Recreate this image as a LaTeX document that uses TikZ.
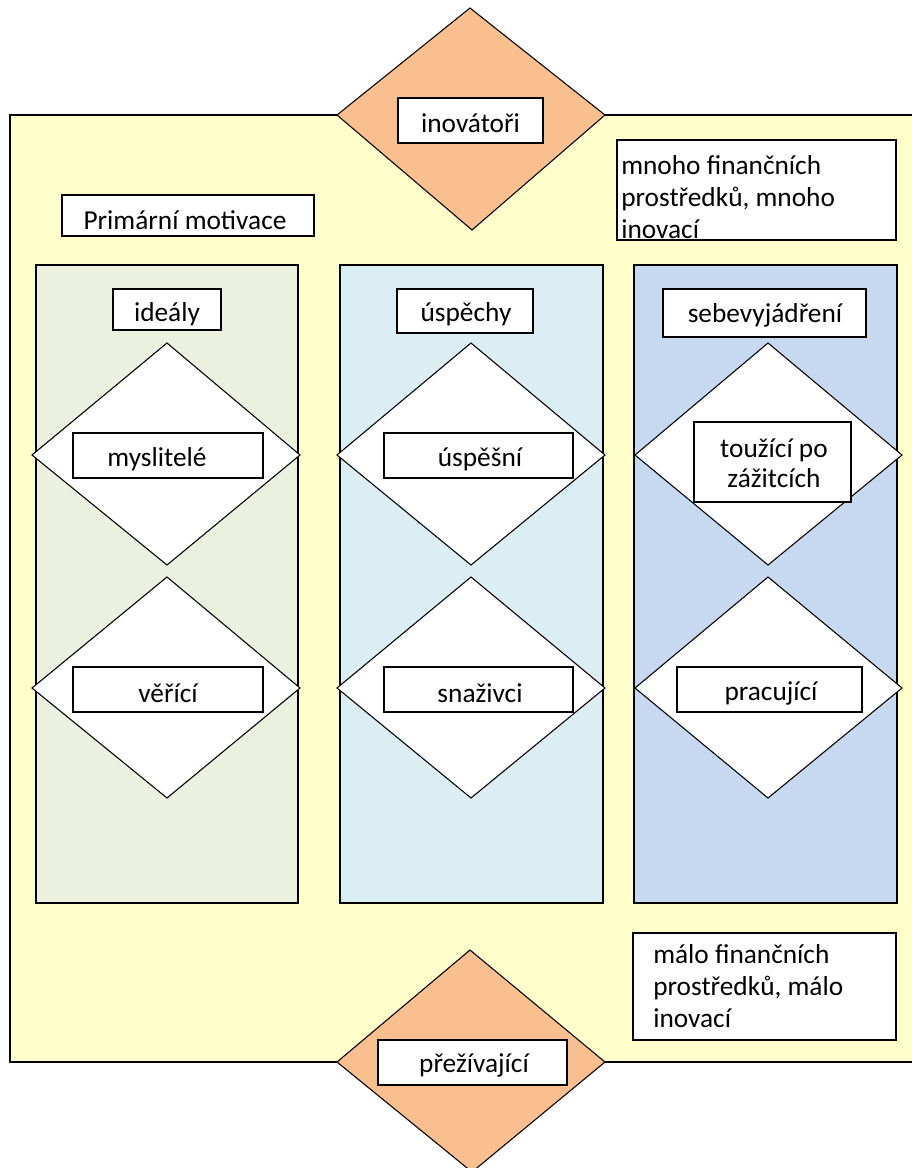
\documentclass[tikz,border=0pt]{standalone}
\usepackage{fontspec}
\setmainfont{Carlito}
\definecolor{cYellow}{RGB}{255,255,204}
\definecolor{cOrange}{RGB}{249,191,143}
\definecolor{cGreen}{RGB}{235,241,222}
\definecolor{cCyan}{RGB}{218,238,243}
\definecolor{cBlue}{RGB}{198,217,241}

\begin{document}
\begin{tikzpicture}[x=0.75pt,y=0.75pt,yscale=-1,xscale=1]
\tikzset{txt/.style={font=\fontsize{20.5}{24}\selectfont, inner sep=0pt}}
\useasboundingbox (0,0) rectangle (912,1168);

%Shape: Rectangle [id:outer]
\draw [fill=cYellow, line width=1.3pt]  (10,115) -- (914,115) -- (914,1062) -- (10,1062) -- cycle ;
%Flowchart: Decision [id:top]
\draw [fill=cOrange, line width=0.8pt]  (470,8) -- (605,115) -- (472,230) -- (337,115) -- cycle ;
%Flowchart: Decision [id:bottom]
\draw [fill=cOrange, line width=0.8pt]  (470,950) -- (605,1062) -- (472,1172) -- (337,1062) -- cycle ;

%Shape: Rectangle [id:col1]
\draw [fill=cGreen, line width=1pt]  (36,265) -- (298,265) -- (298,903) -- (36,903) -- cycle ;
%Shape: Rectangle [id:col2]
\draw [fill=cCyan, line width=1pt]  (340,265) -- (603,265) -- (603,903) -- (340,903) -- cycle ;
%Shape: Rectangle [id:col3]
\draw [fill=cBlue, line width=1pt]  (634,265) -- (897,265) -- (897,903) -- (634,903) -- cycle ;

%Flowchart: Decision [id:d11]
\draw [fill=white, line width=0.8pt]  (167,343) -- (300,455) -- (167,565) -- (32,455) -- cycle ;
%Flowchart: Decision [id:d12]
\draw [fill=white, line width=0.8pt]  (167,577) -- (300,688) -- (167,798) -- (32,688) -- cycle ;
%Flowchart: Decision [id:d21]
\draw [fill=white, line width=0.8pt]  (471,343) -- (605,455) -- (471,565) -- (337,455) -- cycle ;
%Flowchart: Decision [id:d22]
\draw [fill=white, line width=0.8pt]  (471,577) -- (605,688) -- (471,798) -- (337,688) -- cycle ;
%Flowchart: Decision [id:d31]
\draw [fill=white, line width=0.8pt]  (768,343) -- (902,455) -- (768,565) -- (635,455) -- cycle ;
%Flowchart: Decision [id:d32]
\draw [fill=white, line width=0.8pt]  (768,577) -- (902,688) -- (768,798) -- (635,688) -- cycle ;

%Flowchart: Process [id:boxes]
\draw [fill=white, line width=1pt]  (398,98) rectangle (543,143) ;
\draw [fill=white, line width=1pt]  (617,140) rectangle (896,240) ;
\draw [fill=white, line width=1pt]  (62,195) rectangle (314,236) ;
\draw [fill=white, line width=1pt]  (113,289) rectangle (221,330) ;
\draw [fill=white, line width=1pt]  (397,289) rectangle (533,333) ;
\draw [fill=white, line width=1pt]  (663,289) rectangle (866,337) ;
\draw [fill=white, line width=1pt]  (73,433) rectangle (263,478) ;
\draw [fill=white, line width=1pt]  (384,433) rectangle (573,478) ;
\draw [fill=white, line width=1pt]  (694,422) rectangle (851,502) ;
\draw [fill=white, line width=1pt]  (73,667) rectangle (263,712) ;
\draw [fill=white, line width=1pt]  (384,667) rectangle (573,712) ;
\draw [fill=white, line width=1pt]  (677,667) rectangle (862,712) ;
\draw [fill=white, line width=1pt]  (633,933) rectangle (896,1040) ;
\draw [fill=white, line width=1pt]  (378,1040) rectangle (567,1085) ;

% Text Node
\node [txt] (inovatori) at (470.5,123) {inovátoři};
% Text Node
\begin{scope}
\clip (617,140) rectangle (896,238);
\node [txt, anchor=north west, align=left] (mnoho) at (621,155) {mnoho finančních\\prostředků, mnoho\\inovací};
\end{scope}
% Text Node
\node [txt] (motivace) at (185,220) {Primární motivace};
% Text Node
\node [txt] (idealy) at (167,314) {ideály};
% Text Node
\node [txt] (uspechy) at (466,314) {úspěchy};
% Text Node
\node [txt] (sebe) at (765,315) {sebevyjádření};
% Text Node
\node [txt] (myslitele) at (157,459) {myslitelé};
% Text Node
\node [txt] (uspesni) at (480,459) {úspěšní};
% Text Node
\node [txt, align=center, font=\fontsize{20.5}{22.5}\selectfont] (touzici) at (774,463) {toužící po\\zážitcích};
% Text Node
\node [txt] (verici) at (168,693) {věřící};
% Text Node
\node [txt] (snazivci) at (480,693) {snaživci};
% Text Node
\node [txt] (pracujici) at (771,693) {pracující};
% Text Node
\node [txt, anchor=north west, align=left] (malo) at (653,944) {málo finančních\\prostředků, málo\\inovací};
% Text Node
\node [txt] (prezivajici) at (474,1065) {přežívající};

\end{tikzpicture}
\end{document}
